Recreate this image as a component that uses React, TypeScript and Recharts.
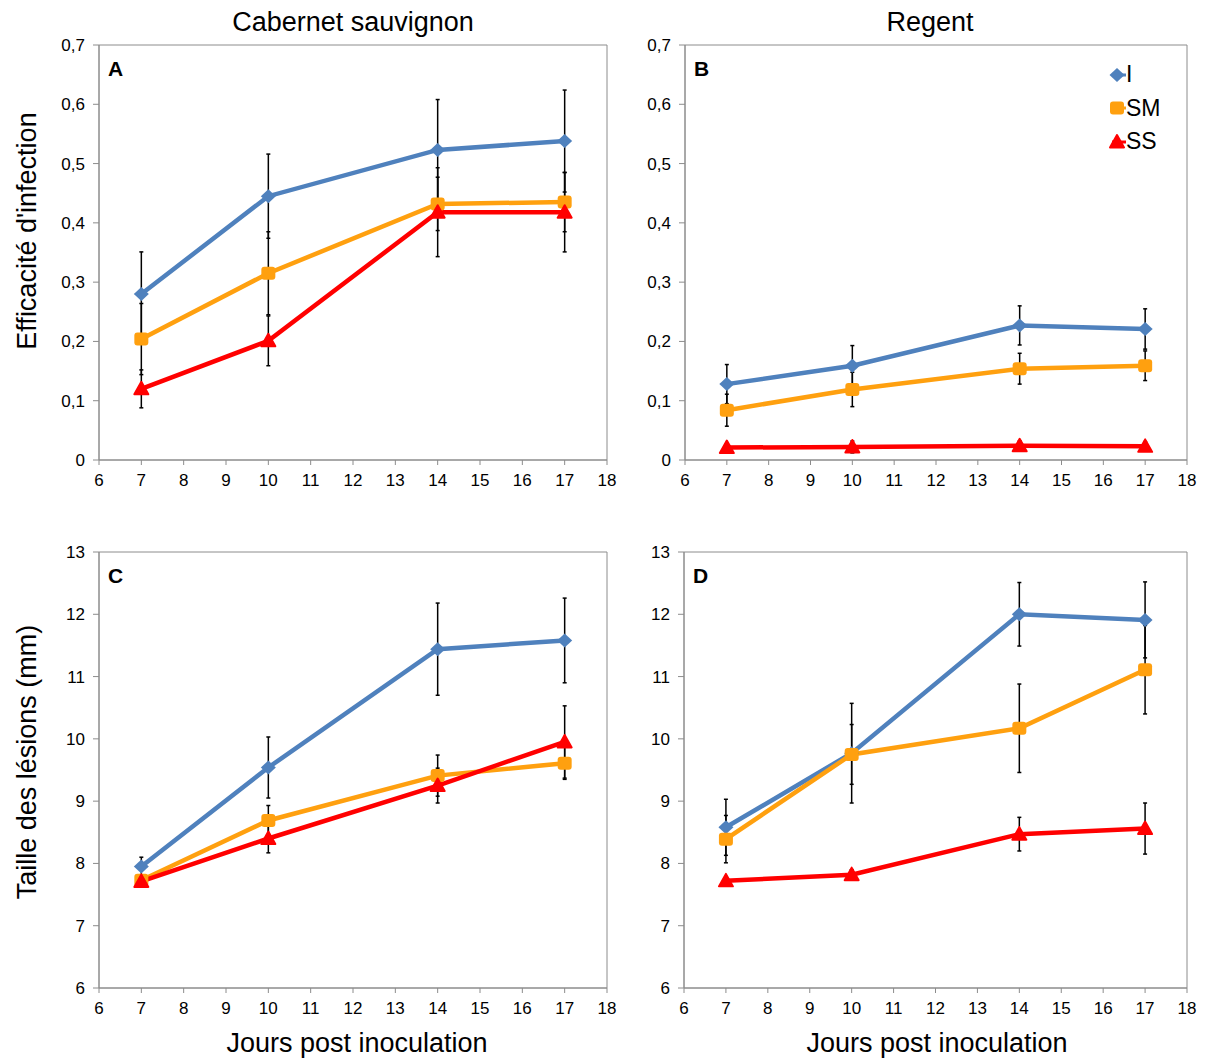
import React from 'react';
import { LineChart, Line, XAxis, YAxis, ErrorBar, ReferenceArea, Legend } from 'recharts';

// jours post inoculation
const DAYS = [7, 10, 14, 17];
const X_TICKS = [6, 7, 8, 9, 10, 11, 12, 13, 14, 15, 16, 17, 18];
const EFF_TICKS = [0, 0.1, 0.2, 0.3, 0.4, 0.5, 0.6, 0.7];
const SIZE_TICKS = [6, 7, 8, 9, 10, 11, 12, 13];

// A - Cabernet sauvignon, efficacité d'infection
const cabEffI = [0.28, 0.445, 0.523, 0.538];
const cabEffIErr = [0.071, 0.071, 0.085, 0.086];
const cabEffSM = [0.204, 0.315, 0.432, 0.435];
const cabEffSMErr = [0.06, 0.07, 0.045, 0.05];
const cabEffSS = [0.12, 0.201, 0.418, 0.418];
const cabEffSSErr = [0.032, 0.042, 0.075, 0.067];

// B - Regent, efficacité d'infection
const regEffI = [0.128, 0.159, 0.227, 0.221];
const regEffIErr = [0.033, 0.034, 0.033, 0.034];
const regEffSM = [0.084, 0.119, 0.154, 0.159];
const regEffSMErr = [0.027, 0.029, 0.026, 0.025];
const regEffSS = [0.021, 0.022, 0.024, 0.023];
const regEffSSErr = [0.006, 0.01, 0.008, 0.008];

// C - Cabernet sauvignon, taille des lésions
const cabSizeI = [7.95, 9.54, 11.44, 11.58];
const cabSizeIErr = [0.15, 0.49, 0.74, 0.68];
const cabSizeSM = [7.73, 8.69, 9.41, 9.61];
const cabSizeSMErr = [0.08, 0.24, 0.33, 0.26];
const cabSizeSS = [7.71, 8.4, 9.25, 9.95];
const cabSizeSSErr = [0.05, 0.23, 0.28, 0.58];

// D - Regent, taille des lésions
const regSizeI = [8.58, 9.77, 12.0, 11.91];
const regSizeIErr = [0.45, 0.8, 0.51, 0.61];
const regSizeSM = [8.39, 9.75, 10.17, 11.11];
const regSizeSMErr = [0.38, 0.48, 0.71, 0.71];
const regSizeSS = [7.72, 7.82, 8.47, 8.56];
const regSizeSSErr = [0.05, 0.08, 0.27, 0.41];

const BLUE = '#4F81BD';
const ORANGE = '#FFA00F';
const RED = '#FF0000';
const AXIS = '#8C8C8C';
const FONT = '"Liberation Sans", Arial, sans-serif';

const buildRows = (i: number[], ie: number[], sm: number[], sme: number[], ss: number[], sse: number[]) =>
  DAYS.map((day, k) => ({ day, I: i[k], Ierr: ie[k], SM: sm[k], SMerr: sme[k], SS: ss[k], SSerr: sse[k] }));

const dataA = buildRows(cabEffI, cabEffIErr, cabEffSM, cabEffSMErr, cabEffSS, cabEffSSErr);
const dataB = buildRows(regEffI, regEffIErr, regEffSM, regEffSMErr, regEffSS, regEffSSErr);
const dataC = buildRows(cabSizeI, cabSizeIErr, cabSizeSM, cabSizeSMErr, cabSizeSS, cabSizeSSErr);
const dataD = buildRows(regSizeI, regSizeIErr, regSizeSM, regSizeSMErr, regSizeSS, regSizeSSErr);

const fmtEff = (v: number) => (v === 0 ? '0' : v.toFixed(1).replace('.', ','));
const fmtSize = (v: number) => String(v);

const marker = (shape: string, color: string, cx: number, cy: number, key?: any) => {
  if (shape === 'diamond')
    return <polygon key={key} points={`${cx - 7.5},${cy} ${cx},${cy - 7} ${cx + 7.5},${cy} ${cx},${cy + 7}`} fill={color} />;
  if (shape === 'square')
    return <rect key={key} x={cx - 7} y={cy - 6.5} width={14} height={13} rx={3} fill={color} />;
  return (
    <polygon key={key} points={`${cx},${cy - 7} ${cx + 7},${cy + 5.5} ${cx - 7},${cy + 5.5}`}
      fill={color} stroke={color} strokeWidth={2} strokeLinejoin="round" />
  );
};

const makeDot = (shape: string, color: string) => (props: any) => {
  const { cx, cy, index } = props;
  if (cx == null || cy == null) return <g key={index} />;
  return marker(shape, color, cx, cy, index);
};

const shapeOf: Record<string, string> = { I: 'diamond', SM: 'square', SS: 'triangle' };

const renderLegend = (props: any) => (
  <div style={{ fontFamily: FONT, fontSize: 23, color: '#000' }}>
    {(props.payload || []).map((p: any) => (
      <div key={p.value} style={{ display: 'flex', alignItems: 'center', height: 33.5 }}>
        <svg width={18} height={16}>
          <line x1={4} y1={8} x2={18} y2={8} stroke={p.color} strokeWidth={3} />
          {marker(shapeOf[p.value], p.color, 9, 8)}
        </svg>
        <span>{p.value}</span>
      </div>
    ))}
  </div>
);

interface PanelProps {
  left: number;
  top: number;
  width: number;
  height: number;
  data: any[];
  domain: [number, number];
  ticks: number[];
  fmt: (v: number) => string;
  letter: string;
  legend?: boolean;
}

function Panel({ left, top, width, height, data, domain, ticks, fmt, letter, legend }: PanelProps) {
  const yW = 56, mt = 12, mr = 20, xH = 36, mb = 4;
  const chartLeft = left - yW;
  const chartTop = top - mt;
  const tickStyle = { fill: '#000', fontSize: 17, fontFamily: FONT };
  return (
    <>
      <div style={{ position: 'absolute', left: chartLeft, top: chartTop }}>
        <LineChart width={yW + width + mr} height={mt + height + xH + mb} data={data}
          margin={{ top: mt, right: mr, left: 0, bottom: mb }}>
          <XAxis type="number" dataKey="day" domain={[6, 18]} ticks={X_TICKS} interval={0}
            stroke={AXIS} tick={tickStyle} tickSize={5} tickMargin={9} height={xH} />
          <YAxis type="number" domain={domain} ticks={ticks} interval={0} tickFormatter={fmt}
            stroke={AXIS} tick={tickStyle} tickSize={6} tickMargin={8} width={yW} />
          <ReferenceArea x1={6} x2={18} y1={domain[0]} y2={domain[1]} fill="none" stroke={AXIS} strokeWidth={1} />
          <Line dataKey="I" name="I" stroke={BLUE} strokeWidth={4.5} dot={makeDot('diamond', BLUE)}
            isAnimationActive={false} legendType="diamond">
            <ErrorBar dataKey="Ierr" direction="y" width={2} stroke="#000" strokeWidth={1.5} />
          </Line>
          <Line dataKey="SM" name="SM" stroke={ORANGE} strokeWidth={4.5} dot={makeDot('square', ORANGE)}
            isAnimationActive={false} legendType="square">
            <ErrorBar dataKey="SMerr" direction="y" width={2} stroke="#000" strokeWidth={1.5} />
          </Line>
          <Line dataKey="SS" name="SS" stroke={RED} strokeWidth={4.5} dot={makeDot('triangle', RED)}
            isAnimationActive={false} legendType="triangle">
            <ErrorBar dataKey="SSerr" direction="y" width={2} stroke="#000" strokeWidth={1.5} />
          </Line>
          {legend && (
            <Legend layout="vertical" align="center" verticalAlign="middle" content={renderLegend}
              wrapperStyle={{ top: 58 - chartTop, left: 1108 - chartLeft, width: 80 }} />
          )}
        </LineChart>
      </div>
      <div style={{ position: 'absolute', left: left + 9, top: top + 12, fontFamily: FONT, fontWeight: 'bold', fontSize: 21 }}>
        {letter}
      </div>
    </>
  );
}

const textBase: React.CSSProperties = {
  position: 'absolute', fontFamily: FONT, fontSize: 27, color: '#000', whiteSpace: 'nowrap',
};

export default function App() {
  return (
    <div style={{ position: 'absolute', left: 0, top: 0, width: 1205, height: 1058, background: '#fff' }}>
      <div style={{ ...textBase, left: 353, top: 22, transform: 'translate(-50%, -50%)' }}>Cabernet sauvignon</div>
      <div style={{ ...textBase, left: 930, top: 22, transform: 'translate(-50%, -50%)' }}>Regent</div>
      <div style={{ ...textBase, left: 27, top: 231, transform: 'translate(-50%, -50%) rotate(-90deg)' }}>Efficacité d'infection</div>
      <div style={{ ...textBase, left: 27, top: 762, transform: 'translate(-50%, -50%) rotate(-90deg)' }}>Taille des lésions (mm)</div>
      <div style={{ ...textBase, left: 357, top: 1043, transform: 'translate(-50%, -50%)' }}>Jours post inoculation</div>
      <div style={{ ...textBase, left: 937, top: 1043, transform: 'translate(-50%, -50%)' }}>Jours post inoculation</div>

      <Panel left={99} top={45} width={508} height={415} data={dataA} domain={[0, 0.7]} ticks={EFF_TICKS} fmt={fmtEff} letter="A" />
      <Panel left={685} top={45} width={502} height={415} data={dataB} domain={[0, 0.7]} ticks={EFF_TICKS} fmt={fmtEff} letter="B" legend />
      <Panel left={99} top={552} width={508} height={436} data={dataC} domain={[6, 13]} ticks={SIZE_TICKS} fmt={fmtSize} letter="C" />
      <Panel left={684} top={552} width={503} height={436} data={dataD} domain={[6, 13]} ticks={SIZE_TICKS} fmt={fmtSize} letter="D" />
    </div>
  );
}
